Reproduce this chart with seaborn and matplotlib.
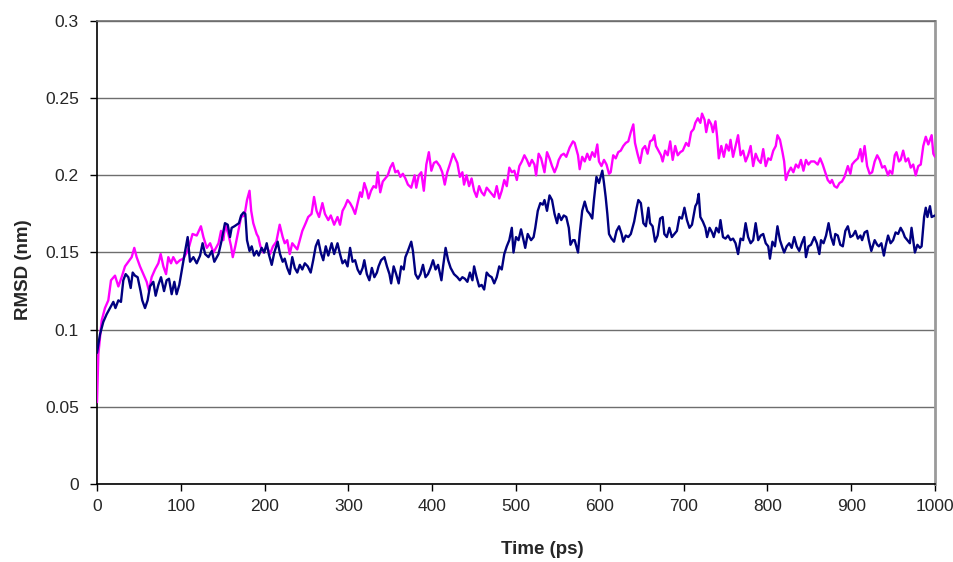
import pandas as pd
import numpy as np
import seaborn as sns
import matplotlib
matplotlib.use('Agg')
import matplotlib.pyplot as plt
from matplotlib.ticker import FuncFormatter, MultipleLocator

############################################################################
# RMSD traces (time in ps, RMSD in nm)

# Magenta trace
time_a = [0, 1.6, 5.6, 9.5, 13.5, 16.7, 21.5, 25.5, 29.4, 33.4, 37.4, 41.4, 44.5, 47.3, 51.3, 55.3, 59.3, 62, 65.2, 69.2,
          73.2, 76, 79.2, 82.4, 85.1, 88.3, 91, 95, 99, 103, 107, 110, 114, 119, 124, 127, 131, 135, 139,
          145, 148, 150.8, 153, 156.7, 160, 162, 165, 168, 172, 176, 179, 182, 184, 186.5, 190.5, 192.5, 195, 198.5,
          202.5, 206.5, 210, 214, 218, 221.6, 224, 227, 230, 233, 236, 239, 242, 245, 249, 252, 256, 259, 262, 265,
          269, 272, 276, 279, 283,
          287, 290, 293, 296, 299, 302, 305, 308, 311, 314, 316, 319, 322, 324, 327, 330, 333, 335, 338, 341, 344,
          347, 350, 353, 356, 359, 362, 365, 368, 371, 375, 379, 381, 384, 387, 390, 393, 396, 399, 402, 405, 409,
          412, 415, 418, 421, 425,
          430, 433, 436, 438, 441, 444, 447, 450, 453, 456, 459, 462, 465, 468, 471, 474, 477, 480, 483, 486, 489,
          492, 495, 498, 501, 504, 507, 510, 513, 516, 519, 522, 524, 527, 530, 534, 537, 540, 543, 546, 549, 551,
          554, 557, 560, 564, 568,
          570, 574, 576, 579, 582, 585, 588, 591, 594, 597, 599, 602, 605, 608, 611, 613, 616, 619, 622, 625, 628,
          631, 634, 637, 640, 642, 645, 648, 651, 654, 657, 660, 663, 665, 667, 670, 673, 675, 678, 681, 684, 687,
          690, 693, 696, 699, 703, 706, 709, 712,
          714, 717, 720, 722, 725, 727, 730, 733, 735, 738, 740, 742, 745, 748, 751, 754, 756, 759, 762, 765, 768,
          771, 774, 777, 780, 783, 786, 789, 792, 795, 798, 801, 804, 807, 810, 812, 815, 818, 820, 822, 825, 828,
          831, 834, 837, 840, 843, 846, 849, 852, 856,
          860, 863, 866, 869, 872, 875, 877, 880, 883, 886, 889, 892, 896, 899, 901, 904, 908, 911, 913, 916, 919,
          922, 925, 928, 931, 934, 937, 940, 944, 946, 949, 952, 954, 957, 959, 962, 965, 968, 971, 974, 977, 980,
          983, 986, 989, 992, 994, 996, 998, 1000]
rmsd_a = [0.053, 0.084, 0.106, 0.114, 0.119, 0.132, 0.135, 0.128, 0.134, 0.141, 0.144, 0.147, 0.153, 0.147, 0.141,
          0.136, 0.131, 0.125, 0.134, 0.139, 0.143, 0.149, 0.141, 0.136, 0.147, 0.143, 0.147, 0.143, 0.145, 0.146,
          0.150, 0.154, 0.162, 0.161, 0.167, 0.160, 0.153, 0.156, 0.150,
          0.156, 0.164, 0.158, 0.168, 0.162, 0.154, 0.147, 0.154, 0.162, 0.173, 0.174, 0.184, 0.190, 0.177, 0.169,
          0.162, 0.160, 0.154, 0.150, 0.154, 0.149, 0.154, 0.157, 0.168, 0.160, 0.156, 0.158, 0.149, 0.156, 0.154,
          0.152, 0.158, 0.164, 0.169, 0.173, 0.175, 0.186, 0.177, 0.173, 0.182, 0.175, 0.171, 0.174, 0.168,
          0.173, 0.168, 0.177, 0.180, 0.184, 0.182, 0.179, 0.175, 0.182, 0.189, 0.186, 0.195, 0.190, 0.185, 0.190,
          0.193, 0.192, 0.202, 0.189, 0.196, 0.198, 0.200, 0.205, 0.208, 0.202, 0.203, 0.199, 0.201, 0.198, 0.194,
          0.192, 0.200, 0.192, 0.200, 0.202, 0.190, 0.207, 0.215, 0.203, 0.208, 0.209, 0.206, 0.202, 0.194, 0.202,
          0.207, 0.214,
          0.208, 0.199, 0.202, 0.194, 0.200, 0.193, 0.198, 0.190, 0.186, 0.193, 0.189, 0.187, 0.192, 0.190, 0.188,
          0.186, 0.193, 0.185, 0.190, 0.197, 0.193, 0.205, 0.202, 0.203, 0.197, 0.206, 0.209, 0.213, 0.210, 0.206,
          0.210, 0.207, 0.200, 0.214, 0.211, 0.202, 0.215, 0.211, 0.206, 0.202, 0.206, 0.210, 0.213, 0.214, 0.212,
          0.218, 0.222,
          0.221, 0.213, 0.204, 0.212, 0.209, 0.214, 0.210, 0.215, 0.212, 0.220, 0.209, 0.206, 0.210, 0.207, 0.201,
          0.202, 0.213, 0.211, 0.215, 0.216, 0.219, 0.221, 0.222, 0.228, 0.233, 0.221, 0.214, 0.208, 0.217, 0.219,
          0.214, 0.222, 0.223, 0.226, 0.219, 0.216, 0.213, 0.209, 0.216, 0.213, 0.222, 0.210, 0.219, 0.213, 0.215,
          0.216, 0.221, 0.219, 0.228, 0.230,
          0.234, 0.237, 0.234, 0.240, 0.236, 0.228, 0.236, 0.233, 0.228, 0.235, 0.225, 0.211, 0.219, 0.212, 0.220,
          0.216, 0.223, 0.212, 0.219, 0.226, 0.213, 0.216, 0.209, 0.213, 0.219, 0.206, 0.214, 0.210, 0.208, 0.217,
          0.206, 0.211, 0.210, 0.216, 0.219, 0.226, 0.223, 0.215, 0.209, 0.197, 0.202, 0.205, 0.202, 0.207, 0.205,
          0.210, 0.203, 0.210, 0.207, 0.209, 0.209,
          0.207, 0.211, 0.207, 0.202, 0.197, 0.195, 0.197, 0.193, 0.192, 0.195, 0.196, 0.199, 0.206, 0.201, 0.207,
          0.209, 0.211, 0.217, 0.209, 0.219, 0.206, 0.201, 0.202, 0.209, 0.213, 0.210, 0.205, 0.206, 0.200, 0.203,
          0.201, 0.213, 0.215, 0.209, 0.210, 0.216, 0.209, 0.211, 0.205, 0.207, 0.200, 0.206, 0.207, 0.219, 0.225,
          0.220, 0.223, 0.226, 0.214, 0.212]

# Navy trace
time_b = [0, 3.6, 7.5, 11.5, 15.5, 19.5, 22, 25.5, 28.6, 31.4, 34.2, 37.4, 40.2, 42.6, 45.3, 48.5, 52, 54, 57.3,
          60.4, 63.2, 67.2, 70, 73.2, 76.4, 80, 83.1, 85.9, 89.1, 92.3, 95, 98.2, 101, 104.2, 108.2, 111, 115, 119,
          123, 126, 129, 133, 137, 140,
          145, 148.8, 152.7, 156, 158.7, 160.7, 164, 166.6, 169.4, 172, 175, 177, 179, 182, 184.6, 187.4, 190.5, 193,
          196.5, 199.6, 202.5, 205, 208.5, 211.6, 215.6, 218.4, 221.6, 224, 227, 230, 233, 236, 239, 242, 245, 248,
          251.5, 255, 258, 261, 264, 267, 270, 273, 276, 280, 283,
          287, 290, 293, 296, 299, 302, 305, 308, 311, 314, 317, 319, 322, 325, 328, 331, 334, 336, 339, 343, 346,
          349, 351, 354, 357, 360, 363, 366, 368, 371, 375, 377, 380, 383, 386, 389, 392, 395, 398, 401, 404, 407,
          411, 413, 416, 419, 422, 426,
          430, 433, 436, 439, 442, 445, 448, 450, 453, 456, 459, 462, 465, 468, 471, 474, 477, 480, 483, 486, 489,
          492, 495, 497, 500, 503, 506, 509, 511, 514, 518, 521, 523, 526, 529, 532, 534, 537, 540, 543, 546, 549,
          551, 554, 557, 560, 563, 565, 568,
          570, 574, 576, 579, 582, 585, 588, 591, 593, 596, 599, 601, 603, 605, 607, 609, 611, 614, 617, 620, 623,
          626, 628, 631, 634, 637, 641, 644, 646, 649, 652, 655, 658, 660, 663, 666, 669, 672, 675, 677, 680, 683,
          686, 689, 692, 695, 698, 701, 704, 707, 710, 714,
          716, 718, 720, 723, 726, 728, 731, 734, 736, 739, 742, 744, 747, 750, 753, 756, 759, 762, 765, 768, 771,
          774, 777, 780, 783, 786, 789, 792, 795, 798, 801, 803, 806, 809, 812, 815, 818, 820, 823, 826, 829, 832,
          835, 838, 841, 844, 846, 849, 852, 856,
          859, 862, 864, 867, 870, 873, 876, 879, 881, 884, 887, 890, 893, 896, 899, 902, 905, 908, 911, 913, 916,
          919, 921, 924, 928, 931, 933, 936, 939, 941, 944, 947, 950, 953, 956, 959, 962, 964, 967, 970, 972, 974,
          976, 979, 982, 984, 987, 989, 991, 994, 996, 1000]
rmsd_b = [0.085, 0.097, 0.105, 0.110, 0.114, 0.118, 0.114, 0.119, 0.118, 0.132, 0.136, 0.134, 0.127, 0.137, 0.135,
          0.134, 0.125, 0.119, 0.114, 0.119, 0.128, 0.131, 0.122, 0.129, 0.134, 0.125, 0.132, 0.133, 0.123, 0.131,
          0.123, 0.129, 0.138, 0.148, 0.160, 0.144, 0.147, 0.143, 0.148, 0.156, 0.149, 0.147, 0.151, 0.144,
          0.149, 0.158, 0.169, 0.168, 0.160, 0.166, 0.167, 0.168, 0.169, 0.174, 0.176, 0.175, 0.158, 0.151, 0.154,
          0.148, 0.151, 0.148, 0.153, 0.150, 0.156, 0.149, 0.142, 0.150, 0.157, 0.149, 0.144, 0.146, 0.140, 0.136,
          0.147, 0.140, 0.137, 0.142, 0.139, 0.143, 0.141, 0.137, 0.145, 0.154, 0.158, 0.150, 0.145, 0.154, 0.148,
          0.156, 0.149,
          0.156, 0.149, 0.143, 0.145, 0.141, 0.153, 0.144, 0.145, 0.139, 0.136, 0.140, 0.145, 0.136, 0.132, 0.140,
          0.134, 0.137, 0.141, 0.145, 0.147, 0.141, 0.136, 0.130, 0.141, 0.136, 0.130, 0.141, 0.139, 0.147, 0.151,
          0.157, 0.151, 0.136, 0.133, 0.136, 0.142, 0.134, 0.136, 0.140, 0.145, 0.139, 0.142, 0.132, 0.141, 0.153,
          0.145, 0.140, 0.136,
          0.134, 0.132, 0.134, 0.133, 0.131, 0.137, 0.132, 0.141, 0.134, 0.128, 0.129, 0.126, 0.137, 0.135, 0.134,
          0.130, 0.134, 0.141, 0.139, 0.149, 0.154, 0.158, 0.166, 0.150, 0.160, 0.158, 0.165, 0.158, 0.153, 0.162,
          0.158, 0.160, 0.166, 0.177, 0.182, 0.181, 0.184, 0.177, 0.187, 0.184, 0.175, 0.169, 0.175, 0.171, 0.174,
          0.173, 0.166, 0.155, 0.158,
          0.158, 0.150, 0.162, 0.177, 0.183, 0.177, 0.175, 0.172, 0.184, 0.199, 0.195, 0.199, 0.203, 0.195, 0.186,
          0.175, 0.162, 0.159, 0.157, 0.164, 0.167, 0.162, 0.157, 0.161, 0.160, 0.162, 0.170, 0.179, 0.184, 0.182,
          0.169, 0.167, 0.179, 0.169, 0.167, 0.157, 0.161, 0.172, 0.173, 0.162, 0.160, 0.166, 0.160, 0.162, 0.164,
          0.173, 0.172, 0.179, 0.171, 0.166, 0.168, 0.180,
          0.182, 0.188, 0.173, 0.170, 0.166, 0.160, 0.166, 0.163, 0.160, 0.166, 0.163, 0.171, 0.160, 0.159, 0.161,
          0.158, 0.159, 0.156, 0.149, 0.159, 0.158, 0.169, 0.160, 0.156, 0.158, 0.169, 0.158, 0.161, 0.162, 0.156,
          0.154, 0.146, 0.157, 0.154, 0.167, 0.158, 0.153, 0.150, 0.154, 0.156, 0.153, 0.160, 0.154, 0.151, 0.156,
          0.160, 0.147, 0.154, 0.155, 0.160,
          0.156, 0.149, 0.158, 0.156, 0.161, 0.169, 0.160, 0.155, 0.162, 0.161, 0.155, 0.154, 0.164, 0.167, 0.160,
          0.161, 0.164, 0.159, 0.161, 0.158, 0.163, 0.164, 0.158, 0.151, 0.158, 0.155, 0.154, 0.156, 0.148, 0.154,
          0.161, 0.156, 0.158, 0.163, 0.162, 0.166, 0.163, 0.160, 0.158, 0.156, 0.166, 0.158, 0.150, 0.155, 0.153,
          0.154, 0.173, 0.179, 0.173, 0.180, 0.173, 0.174]

run_a = pd.DataFrame({'time': time_a, 'rmsd': rmsd_a})
run_b = pd.DataFrame({'time': time_b, 'rmsd': rmsd_b})

############################################################################
# Plot

sns.set_style('white')
plt.rcParams['font.family'] = ['Liberation Sans', 'DejaVu Sans']

fig = plt.figure(figsize=(9.54, 5.62), dpi=100)
ax = fig.add_axes([97/954, 1 - 484/562, (935 - 97)/954, (484 - 21)/562])

sns.lineplot(data=run_a, x='time', y='rmsd', color='#FF00FF', linewidth=1.7, sort=False, ax=ax, zorder=3)
sns.lineplot(data=run_b, x='time', y='rmsd', color='#000080', linewidth=1.7, sort=False, ax=ax, zorder=4)

ax.set_xlim(0, 1000)
ax.set_ylim(0, 0.3)
ax.xaxis.set_major_locator(MultipleLocator(100))
ax.yaxis.set_major_locator(MultipleLocator(0.05))
ax.yaxis.set_major_formatter(FuncFormatter(lambda v, p: f'{v:g}'))

# Horizontal grid only, like the spreadsheet original
ax.yaxis.grid(True, color='#6e6e6e', linewidth=1)
ax.xaxis.grid(False)
ax.set_axisbelow(True)

ax.spines['left'].set_color('black')
ax.spines['bottom'].set_color('black')
ax.spines['top'].set_color('#6e6e6e')
ax.spines['right'].set_color('#9a9a9a')
for s in ['left', 'bottom', 'top', 'right']:
    ax.spines[s].set_linewidth(1.2)
ax.spines['right'].set_linewidth(2)

ax.tick_params(axis='both', which='major', direction='out', length=5, width=1,
               labelsize=12.5, color='black', left=True, bottom=True)
ax.tick_params(axis='y', pad=8)
ax.tick_params(axis='x', pad=6)

ax.set_xlabel('Time (ps)', fontsize=13.5, fontweight='bold')
ax.set_ylabel('RMSD (nm)', fontsize=13.5, fontweight='bold')
ax.xaxis.set_label_coords((542 - 97)/838, -(541 - 484)/463)
ax.yaxis.set_label_coords(-(97 - 32)/838, (484 - 270)/463)

plt.savefig('out.png', dpi=100)
